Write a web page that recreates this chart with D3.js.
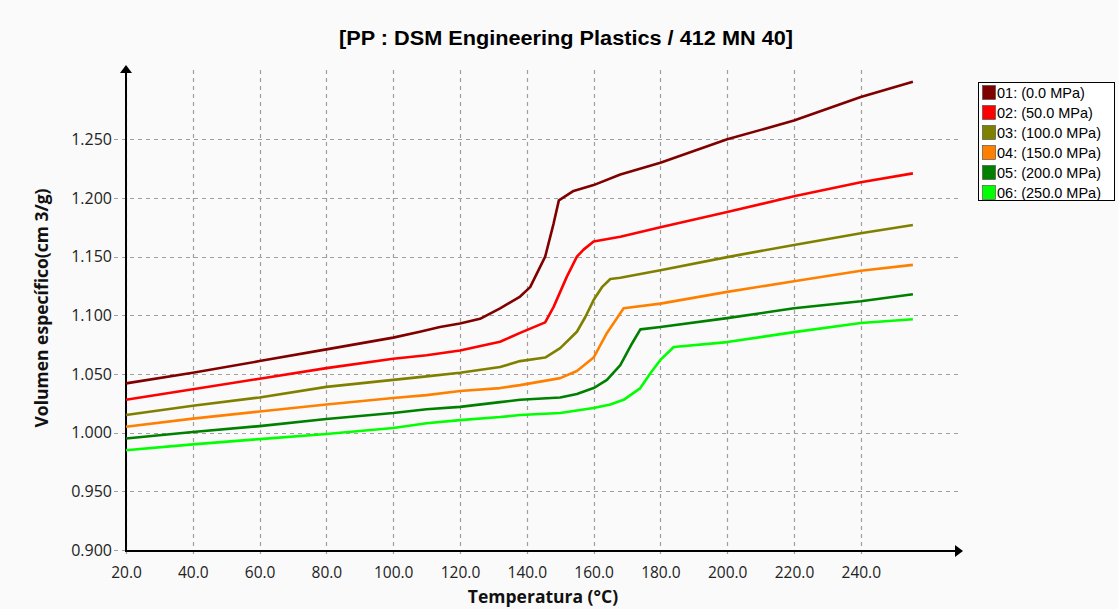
<!DOCTYPE html>
<html>
<head>
<meta charset="utf-8">
<script src="https://cdn.jsdelivr.net/npm/d3@7"></script>
<style>
  html, body { margin: 0; padding: 0; background: #fafafa; }
  svg { display: block; }
</style>
</head>
<body>
<svg id="chart" width="1118" height="609"></svg>
<script>
// ---------- data ----------
const title = "[PP : DSM Engineering Plastics / 412 MN 40]";
const xLabel = "Temperatura (°C)";
const yLabel = "Volumen específico(cm 3/g)";

const xTicks = [20, 40, 60, 80, 100, 120, 140, 160, 180, 200, 220, 240];
const yTicks = [0.900, 0.950, 1.000, 1.050, 1.100, 1.150, 1.200, 1.250];

const seriesNames = ["01: (0.0 MPa)", "02: (50.0 MPa)", "03: (100.0 MPa)", "04: (150.0 MPa)", "05: (200.0 MPa)", "06: (250.0 MPa)"];
const seriesColors = ["#800000", "#ff0000", "#808000", "#ff8000", "#008000", "#00ff00"];

const temp01 = [20, 40, 60, 80, 100, 108, 114, 120, 126, 132, 138, 141, 145.5, 148, 149.6, 154, 160, 168, 180, 200, 220, 240, 255.6];
const vol01  = [1.042, 1.051, 1.061, 1.071, 1.081, 1.086, 1.090, 1.093, 1.097, 1.106, 1.116, 1.124, 1.150, 1.178, 1.198, 1.206, 1.211, 1.220, 1.230, 1.250, 1.266, 1.286, 1.299];

const temp02 = [20, 40, 60, 80, 100, 110, 120, 132, 138, 145.5, 148, 152, 155, 157, 160, 168, 180, 200, 220, 240, 255.6];
const vol02  = [1.028, 1.037, 1.046, 1.055, 1.063, 1.066, 1.070, 1.0775, 1.085, 1.094, 1.107, 1.133, 1.150, 1.156, 1.163, 1.167, 1.175, 1.188, 1.2015, 1.2135, 1.221];

const temp03 = [20, 40, 60, 80, 100, 110, 120, 132, 138, 145.5, 150, 155, 157.6, 160, 162.5, 165, 168, 180, 200, 220, 240, 255.6];
const vol03  = [1.015, 1.023, 1.030, 1.039, 1.045, 1.048, 1.051, 1.056, 1.061, 1.064, 1.072, 1.086, 1.099, 1.113, 1.124, 1.131, 1.132, 1.1385, 1.1496, 1.160, 1.170, 1.177];

const temp04 = [20, 40, 60, 80, 100, 110, 120, 132, 138, 150, 155, 160, 164, 169, 180, 200, 220, 240, 255.6];
const vol04  = [1.005, 1.012, 1.018, 1.024, 1.0295, 1.032, 1.0355, 1.038, 1.0405, 1.0465, 1.0525, 1.064, 1.085, 1.106, 1.110, 1.120, 1.129, 1.138, 1.143];

const temp05 = [20, 40, 60, 80, 100, 110, 120, 132, 138, 150, 155, 160, 164, 168, 171.5, 174, 180, 200, 220, 240, 255.6];
const vol05  = [0.995, 1.0005, 1.0056, 1.0116, 1.0167, 1.020, 1.022, 1.026, 1.028, 1.030, 1.033, 1.038, 1.045, 1.0576, 1.076, 1.088, 1.090, 1.0976, 1.106, 1.112, 1.118];

const temp06 = [20, 40, 60, 80, 100, 110, 120, 132, 138, 150, 160, 165, 169, 174, 177, 180, 184, 200, 220, 240, 255.6];
const vol06  = [0.985, 0.990, 0.9945, 0.9988, 1.004, 1.008, 1.0107, 1.0133, 1.015, 1.0167, 1.021, 1.024, 1.028, 1.038, 1.0507, 1.062, 1.073, 1.0772, 1.0857, 1.0934, 1.0967];

const temps = [temp01, temp02, temp03, temp04, temp05, temp06];
const vols  = [vol01, vol02, vol03, vol04, vol05, vol06];

// ---------- layout ----------
const svg = d3.select("#chart");
const x = d3.scaleLinear().domain([20, 270]).range([126, 961]);
const y = d3.scaleLinear().domain([0.9, 1.3125]).range([550, 66]);

const tickFont = "'Open Sans', 'Noto Sans', sans-serif";

// title
svg.append("text")
  .attr("x", 566).attr("y", 45)
  .attr("text-anchor", "middle")
  .attr("font-family", "'Liberation Sans', Arial, sans-serif")
  .attr("font-weight", "bold")
  .attr("font-size", 20)
  .attr("fill", "#000")
  .attr("textLength", 454)
  .attr("lengthAdjust", "spacingAndGlyphs")
  .text(title);

// grid
const grid = svg.append("g").attr("stroke", "#a0a0a0").attr("stroke-width", 1.2).attr("stroke-dasharray", "4,4");
grid.selectAll("line.v").data(xTicks).join("line")
  .attr("x1", d => Math.round(x(d)) + 0.5).attr("x2", d => Math.round(x(d)) + 0.5)
  .attr("y1", 70).attr("y2", 557);
grid.selectAll("line.h").data(yTicks).join("line")
  .attr("y1", d => Math.round(y(d)) + 0.5).attr("y2", d => Math.round(y(d)) + 0.5)
  .attr("x1", 114).attr("x2", 962);

// axes (labels via d3 axes)
const xAxis = d3.axisBottom(x).tickValues(xTicks).tickFormat(d3.format(".1f")).tickSize(0).tickPadding(17);
const gx = svg.append("g").attr("transform", "translate(0,550)").call(xAxis);
gx.select(".domain").remove();
gx.selectAll("text").attr("font-family", tickFont).attr("font-size", 15.5).attr("fill", "#222");

const yAxis = d3.axisLeft(y).tickValues(yTicks).tickFormat(d3.format(".3f")).tickSize(0).tickPadding(14);
const gy = svg.append("g").attr("transform", "translate(126,0)").call(yAxis);
gy.select(".domain").remove();
gy.selectAll("text").attr("font-family", tickFont).attr("font-size", 16).attr("fill", "#222");

// axis lines with arrows
svg.append("line").attr("x1", 126).attr("y1", 551).attr("x2", 126).attr("y2", 72)
  .attr("stroke", "#000").attr("stroke-width", 2);
svg.append("path").attr("d", "M126,65 L120,73 L132,73 Z").attr("fill", "#000");
svg.append("line").attr("x1", 125).attr("y1", 551).attr("x2", 955).attr("y2", 551)
  .attr("stroke", "#000").attr("stroke-width", 2);
svg.append("path").attr("d", "M963,551 L955,545 L955,557 Z").attr("fill", "#000");

// series lines
const line = d3.line().x(d => x(d[0])).y(d => y(d[1]));
const lines = svg.append("g");
temps.forEach((t, i) => {
  const pts = t.map((tv, j) => [tv, vols[i][j]]);
  lines.append("path")
    .attr("d", line(pts))
    .attr("fill", "none")
    .attr("stroke", seriesColors[i])
    .attr("stroke-width", 2.6)
    .attr("stroke-linejoin", "round");
});

// axis titles
svg.append("text")
  .attr("x", 543).attr("y", 603)
  .attr("text-anchor", "middle")
  .attr("font-family", tickFont)
  .attr("font-weight", "bold")
  .attr("font-size", 17.5)
  .attr("fill", "#111")
  .text(xLabel);

svg.append("text")
  .attr("transform", "translate(48,308) rotate(-90)")
  .attr("text-anchor", "middle")
  .attr("font-family", tickFont)
  .attr("font-weight", "bold")
  .attr("font-size", 17.5)
  .attr("fill", "#111")
  .text(yLabel);

// legend
const lg = svg.append("g");
lg.append("rect").attr("x", 978.5).attr("y", 82.5).attr("width", 136).attr("height", 118)
  .attr("fill", "#fff").attr("stroke", "#000").attr("stroke-width", 1);
seriesNames.forEach((name, i) => {
  const yy = 85 + i * 20;
  lg.append("rect").attr("x", 982.5).attr("y", yy + 0.5).attr("width", 13).attr("height", 14)
    .attr("fill", seriesColors[i]).attr("stroke", "#444").attr("stroke-width", 0.6);
  lg.append("text").attr("x", 997).attr("y", yy + 12.5)
    .attr("font-family", "'Liberation Sans', Arial, sans-serif")
    .attr("font-size", 14.5)
    .attr("fill", "#000")
    .text(name);
});
</script>
</body>
</html>
